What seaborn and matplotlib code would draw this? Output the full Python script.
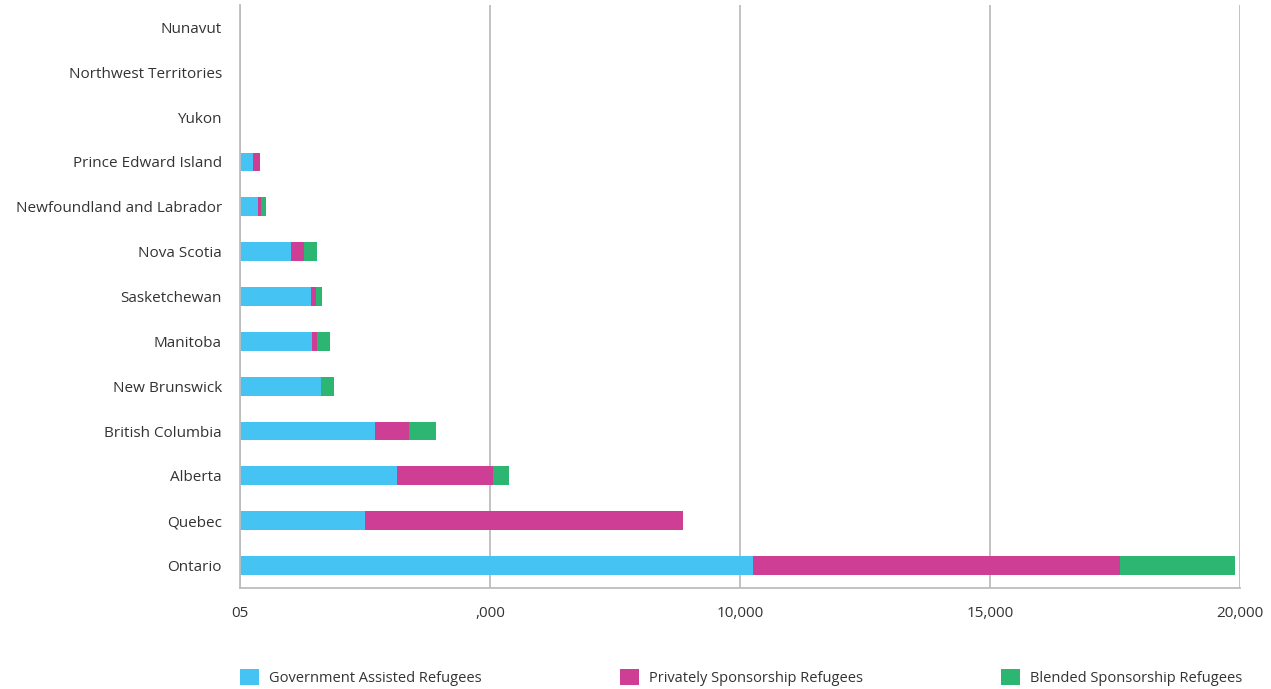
import matplotlib
matplotlib.use("Agg")
import matplotlib.pyplot as plt
import seaborn as sns
import pandas as pd
import numpy as np
from matplotlib.patches import Patch

provinces = ["Nunavut", "Northwest Territories", "Yukon", "Prince Edward Island",
             "Newfoundland and Labrador", "Nova Scotia", "Sasketchewan", "Manitoba",
             "New Brunswick", "British Columbia", "Alberta", "Quebec", "Ontario"]
gar = [0, 0, 0, 260, 360, 1020, 1420, 1440, 1620, 2700, 3140, 2500, 10260]
psr = [0, 0, 0, 140, 60, 260, 100, 100, 0, 680, 1920, 6360, 7340]
bvor = [0, 0, 0, 0, 100, 260, 120, 260, 260, 540, 320, 0, 2300]
series = ["Government Assisted Refugees", "Privately Sponsorship Refugees", "Blended Sponsorship Refugees"]
xtick_values = [0, 5000, 10000, 15000, 20000]
xtick_labels = ["05", ",000", "10,000", "15,000", "20,000"]

colors = ["#45C3F2", "#CE3E94", "#2DB672"]

df = pd.DataFrame({"province": provinces, "gar": gar, "psr": psr, "bvor": bvor})
df["c1"] = df["gar"]
df["c2"] = df["gar"] + df["psr"]
df["c3"] = df["gar"] + df["psr"] + df["bvor"]

sns.set_style("white")
plt.rcParams["font.family"] = ["Open Sans", "DejaVu Sans"]

fig = plt.figure(figsize=(12.71, 6.89), dpi=100)
ax = fig.add_axes([240/1271, 1 - 588/689, 1000/1271, 583/689])

for col, c in zip(["c3", "c2", "c1"], colors[::-1]):
    sns.barplot(data=df, y="province", x=col, order=provinces, color=c,
                width=0.42, saturation=1, ax=ax, linewidth=0)

ax.set_xlim(0, 20000)
ax.set_xticks(xtick_values)
ax.set_xticklabels(xtick_labels, fontsize=11, color="#333333")
ax.set_xlabel("")
ax.set_ylabel("")
ax.tick_params(axis="y", labelsize=11, colors="#333333", length=0, pad=13)
ax.tick_params(axis="x", length=0, pad=13)
for lab in ax.get_yticklabels():
    lab.set_color("#333333")
ax.xaxis.grid(True, color="#BDBDBD", linewidth=1.3)
ax.set_axisbelow(True)
for s in ["top", "right"]:
    ax.spines[s].set_visible(False)
ax.spines["left"].set_color("#BDBDBD")
ax.spines["left"].set_linewidth(1.3)
ax.spines["bottom"].set_color("#BDBDBD")
ax.spines["bottom"].set_linewidth(1.3)

handles = [Patch(facecolor=c, edgecolor="none") for c in colors]
fig.legend(handles, series, loc="lower left", ncol=3, mode="expand",
           bbox_to_anchor=(240/1271, 3/689, 1002/1271, 0.05), frameon=False,
           fontsize=10.5, handlelength=1.3, handleheight=1.3, handletextpad=0.7,
           borderaxespad=0.0, borderpad=0.0, labelcolor="#333333")

fig.savefig("out.png", dpi=100)
